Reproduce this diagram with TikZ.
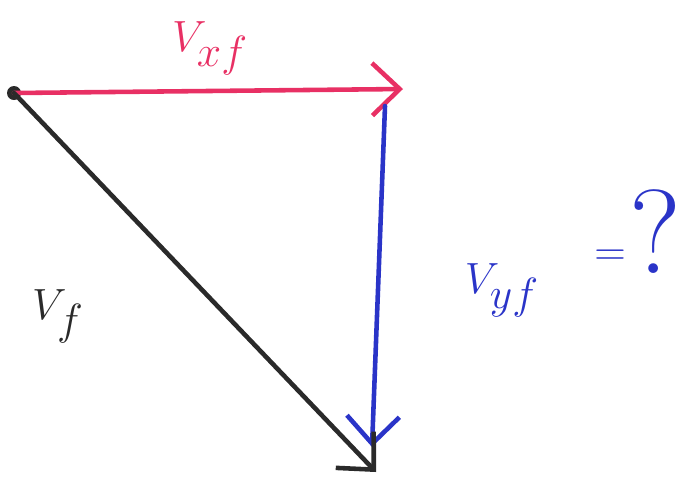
\documentclass[tikz,border=0pt]{standalone}
\usepackage{amsmath}
\usepackage{tikz}
\usetikzlibrary{arrows.meta,positioning}
\definecolor{penred}{RGB}{232,48,100}
\definecolor{penblue}{RGB}{42,52,200}
\definecolor{penblack}{RGB}{42,42,42}

\begin{document}
\begin{tikzpicture}[
  x=0.02cm, y=-0.02cm,
  pen/.style={line width=2.6pt, line cap=round, line join=round,
              -{Straight Barb[length=0.55cm,width=1.05cm,line width=2.6pt]}},
  hand/.style={font=\fontsize{37}{44}\selectfont, inner sep=0pt}
]
\useasboundingbox (0,0) rectangle (688,481);

% triangle corners
\coordinate (O)     at (14,93);
\coordinate (xtip)  at (403,89);
\coordinate (ytop)  at (385,106);
\coordinate (ytip)  at (372,447);
\coordinate (ftip)  at (376,472);

% start dot
\fill[penblack] (O) circle (7);

% components and resultant
\draw[pen,penred]   (O) -- (xtip);
\draw[pen,penblue]  (ytop) -- (ytip);
\draw[pen,penblack] (O) -- (ftip);

% labels
\node[hand,text=penred]   (vxf) at (210,48)  {$V_{xf}$};
\node[hand,text=penblack] (vf)  at (58,316)  {$V_{f}$};
\node[hand,text=penblue]  (vyf) at (502,290) {$V_{yf}$};
\node[hand,text=penblue,font=\fontsize{26}{30}\selectfont]
  (eq)  at (610,258) {$=$};
\node[hand,text=penblue,font=\fontsize{68}{78}\selectfont]
  (qst) at (655,232) {?};
\end{tikzpicture}
\end{document}
